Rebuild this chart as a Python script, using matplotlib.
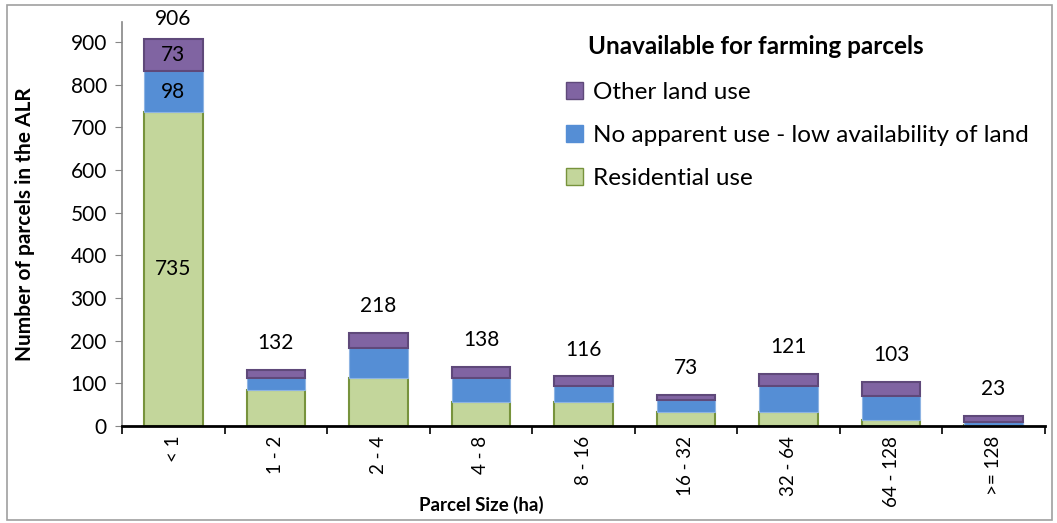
import numpy as np
import matplotlib.pyplot as plt
from matplotlib.patches import Patch, Rectangle

plt.rcParams['font.family'] = ['Lato', 'DejaVu Sans']

sizes = ['< 1', '1 - 2', '2 - 4', '4 - 8', '8 - 16', '16 - 32', '32 - 64', '64 - 128', '>= 128']
residential = [735, 85, 112, 56, 56, 32, 32, 14, 2]
no_use = [98, 27, 70, 56, 38, 29, 62, 56, 7]
other = [73, 20, 36, 26, 22, 12, 27, 33, 14]
totals = [906, 132, 218, 138, 116, 73, 121, 103, 23]

fig = plt.figure(figsize=(10.57, 5.23), dpi=100)
ax = fig.add_axes([0.1155, 0.1855, 0.873, 0.7725])

x = np.arange(len(sizes))
w = 0.57
res = np.array(residential)
nu = np.array(no_use)
ot = np.array(other)
ax.bar(x, res, w, color='#C3D69B', edgecolor='#77933C', linewidth=1.5, label='Residential use')
ax.bar(x, nu, w, bottom=res, color='#558ED5', edgecolor='#8EB4E3', linewidth=0.8,
       label='No apparent use - low availability of land')
ax.bar(x, ot, w, bottom=res + nu, color='#8064A2', edgecolor='#5F497A', linewidth=1.5,
       label='Other land use')

for i, t in enumerate(totals):
    ax.text(x[i], min(t + 63, 953), str(t), ha='center', va='center', fontsize=15, clip_on=False)
# segment labels for the big bar
ax.text(x[0], res[0] / 2, str(residential[0]), ha='center', va='center', fontsize=15)
ax.text(x[0], res[0] + nu[0] / 2, str(no_use[0]), ha='center', va='center', fontsize=15)
ax.text(x[0], res[0] + nu[0] + ot[0] / 2, str(other[0]), ha='center', va='center', fontsize=15)

ax.set_xlim(-0.5, len(sizes) - 0.5)
ax.set_ylim(0, 947)
ax.set_yticks(range(0, 1000, 100))
ax.set_xticks(x)
ax.set_xticklabels(sizes, rotation=90, fontsize=13.5)
ax.set_xticks(np.arange(-0.5, len(sizes)), minor=True)
ax.tick_params(axis='x', which='major', length=0, pad=7)
ax.tick_params(axis='x', which='minor', length=6, width=1.2, color='black', direction='out')
ax.tick_params(axis='y', labelsize=15, length=5, color='#868686', pad=6)

for s in ['top', 'right']:
    ax.spines[s].set_visible(False)
ax.spines['bottom'].set_linewidth(2)
ax.spines['bottom'].set_color('black')
ax.spines['left'].set_color('#868686')
ax.spines['left'].set_linewidth(1.2)

ax.set_ylabel('Number of parcels in the ALR', fontsize=15, fontweight='bold')
ax.yaxis.set_label_coords(-0.094, 0.5)
ax.set_xlabel('Parcel Size (ha)', fontsize=13.5, fontweight='bold')
ax.xaxis.set_label_coords(0.389, -0.172)

handles = [Patch(facecolor='#8064A2', edgecolor='#5F497A', label='Other land use'),
           Patch(facecolor='#558ED5', edgecolor='#558ED5', label='No apparent use - low availability of land'),
           Patch(facecolor='#C3D69B', edgecolor='#77933C', label='Residential use')]
leg = fig.legend(handles=handles, loc='upper left', bbox_to_anchor=(566 / 1057, 1 - 82 / 523),
                 frameon=False, fontsize=17.5, borderpad=0, borderaxespad=0,
                 handlelength=0.7, handleheight=0.7, handletextpad=0.4, labelspacing=0.9)
fig.text(588 / 1057, 1 - 47 / 523, 'Unavailable for farming parcels', fontsize=17.5,
         fontweight='bold', ha='left', va='center')

fig.patches.append(Rectangle((0.007, 0.006), 0.988, 0.985, transform=fig.transFigure,
                             fill=False, edgecolor='#A0A0A0', linewidth=1.2))

fig.savefig('out.png', dpi=100)
